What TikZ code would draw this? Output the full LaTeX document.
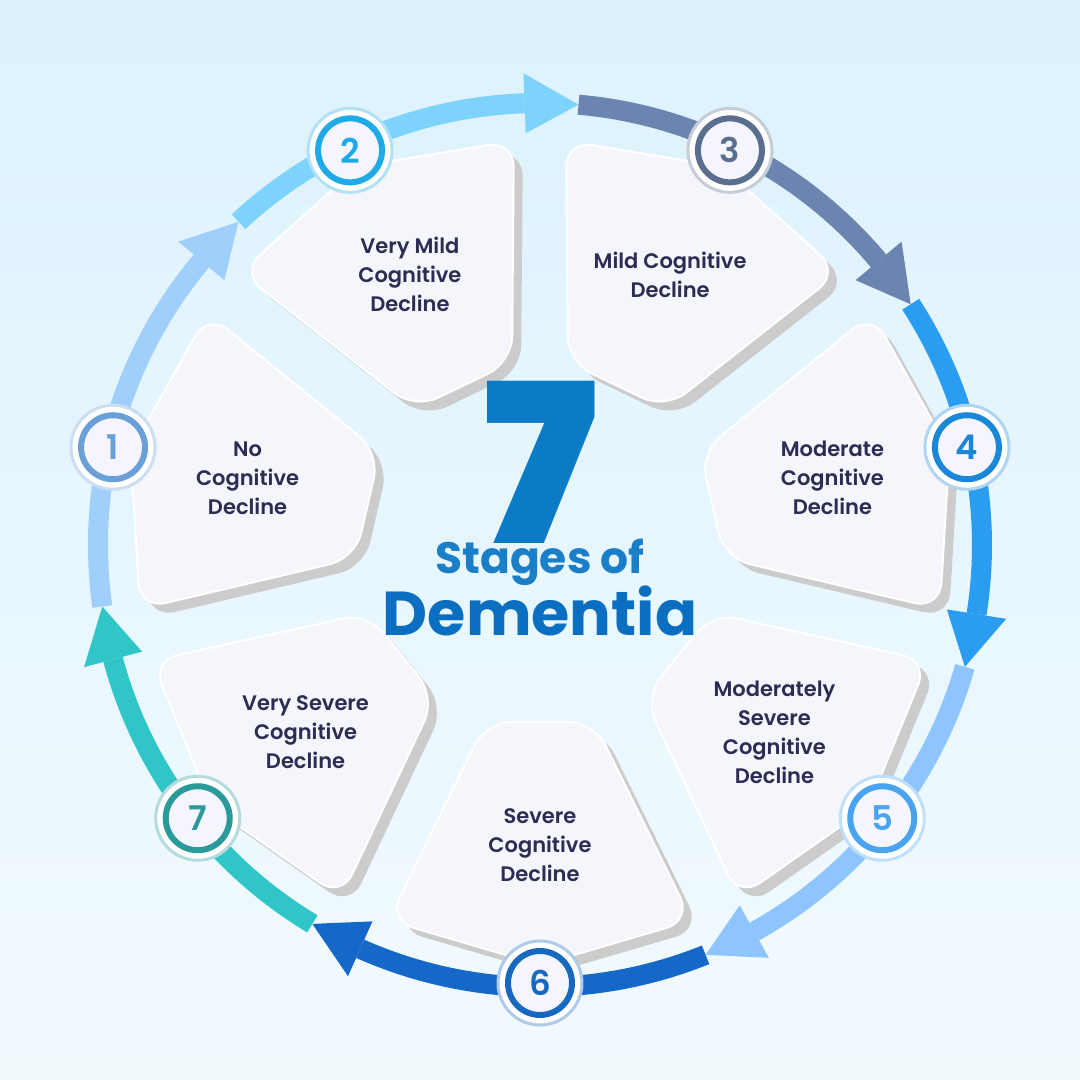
\documentclass[tikz,border=0pt]{standalone}
\usepackage{fontspec}
\setmainfont{Poppins}[BoldFont={* SemiBold}]
\newfontfamily\heavy{Poppins Black}
\newfontfamily\xbold{Poppins Bold}
\usetikzlibrary{calc}
\definecolor{navy}{HTML}{2B2D52}
\begin{document}
\begin{tikzpicture}[x=1pt,y=1pt,
  lbl/.style={align=center,font=\fontsize{21}{29}\selectfont\bfseries,text=navy},
  badge/.style={circle,minimum size=84pt,fill=white,draw=#1!35,line width=3pt,inner sep=0pt},
  num/.style={circle,minimum size=64pt,fill=blue!4,draw=#1,line width=6pt,text=#1,font=\fontsize{34}{34}\selectfont\bfseries,inner sep=0pt}]
\shade[top color={rgb,255:red,220;green,242;blue,253},bottom color={rgb,255:red,242;green,250;blue,254}] (-540,-535) rectangle (540,545);
\useasboundingbox (-540,-535) rectangle (540,545);
% ring segments: start, tip, colour
\foreach \s/\t/\c [count=\i] in {188/133/9FCFFA,133/85/7DD3FC,85/33/6B84B0,33/-16/2A9DF0,-16/-68/8EC5FF,-68/-121/1668C8,-121/-172/30C6C8}{
  \pgfmathsetmacro\b{\t+7}
  \definecolor{sc}{HTML}{\c}
  \draw[line width=20pt,sc] (\s:442) arc[start angle=\s,end angle=\b,radius=442];
  \fill[sc] (\b:412) -- (\t:442) -- (\b:472) -- cycle;
}
% panels
\foreach \a/\txt [count=\i] in {167.1/No\\Cognitive\\Decline,115.7/Very Mild\\Cognitive\\Decline,64.3/Mild Cognitive\\Decline,12.9/Moderate\\Cognitive\\Decline,-38.6/Moderately\\Severe\\Cognitive\\Decline,-90/Severe\\Cognitive\\Decline,218.6/Very Severe\\Cognitive\\Decline}{
  \fill[black!20,rounded corners=26pt,shift={(9,-9)}] (\a-17:185) -- (\a+17:185) -- (\a+22:405) -- (\a:420) -- (\a-22:405) -- cycle;
  \filldraw[fill={rgb,255:red,244;green,246;blue,252},draw=white,line width=2pt,rounded corners=26pt] (\a-17:185) -- (\a+17:185) -- (\a+22:405) -- (\a:420) -- (\a-22:405) -- cycle;
  \node[lbl] (t\i) at (\a:300) {\txt};
}
% badges
\foreach \a/\c [count=\i] in {167.1/6A9FD8,115.7/1FA9E6,64.3/5A6F8F,12.9/1A88D6,-38.6/4AA3F0,-90/1769C0,218.6/2A9A9A}{
  \definecolor{bc}{HTML}{\c}
  \node[badge=bc] (b\i) at (\a:438) {};
  \node[num=bc] (n\i) at (\a:438) {\i};
}
% centre
\node[anchor=base,inner sep=0pt,font=\fontsize{222}{222}\heavy,text={rgb,255:red,10;green,123;blue,196}] (seven) at (0,2) {7};
\node[anchor=base,inner sep=0pt,font=\fontsize{44}{44}\xbold,text={rgb,255:red,26;green,127;blue,200}] (stages) at (0,-28) {Stages of};
\node[anchor=base,inner sep=0pt,font=\fontsize{62}{62}\xbold,text={rgb,255:red,10;green,111;blue,192}] (dem) at (0,-90) {Dementia};
\end{tikzpicture}
\end{document}
